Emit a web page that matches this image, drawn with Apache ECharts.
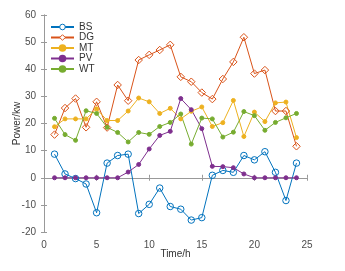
<!DOCTYPE html>
<html><head><meta charset="utf-8">
<script src="https://cdn.jsdelivr.net/npm/echarts@6/dist/echarts.min.js"></script>
<style>html,body{margin:0;padding:0;background:#fff}#c{width:345px;height:271px}</style>
</head><body><div id="c"></div>
<script>
const hours = [1,2,3,4,5,6,7,8,9,10,11,12,13,14,15,16,17,18,19,20,21,22,23,24];
const BS = [8.7,1.4,-0.3,-2.3,-12.9,5.4,8.2,8.7,-13.2,-9.8,-3.8,-10.6,-11.6,-15.6,-14.7,0.9,2.7,2.0,8.2,6.6,9.6,2.0,-8.4,5.4];
const DG = [15.9,25.7,29.2,18.6,28.0,18.5,34.2,28.4,43.4,45.3,47.1,49.0,37.2,35.4,31.4,29.0,36.4,42.7,51.8,38.4,39.7,24.6,24.6,11.6];
const MT = [18.8,21.7,21.7,21.7,25.4,21.1,21.1,24.6,29.4,28.0,23.7,25.6,21.7,24.5,26.1,18.9,20.3,28.5,15.2,24.2,20.7,27.6,27.9,14.8];
const PV = [0,0,0,0,0,0,0,2.1,4.9,10.6,15.6,17.1,29.2,25.1,18.1,4.2,4.1,3.7,1.4,0,0,0,0,0];
const WT = [21.9,15.9,13.8,24.7,23.7,18.6,16.7,13.2,16.7,16.0,18.9,20.4,23.5,12.4,22.0,21.7,15.0,16.8,24.4,22.9,17.5,20.4,22.1,23.7];
const seriesNames = ['BS','DG','MT','PV','WT'];
const seriesData = [BS,DG,MT,PV,WT];
const colors = ['#0072BD','#D95319','#EDB120','#7E2F8E','#77AC30'];
const symbols = ['circle','diamond','circle','circle','circle'];
const hollow = [true,true,false,false,false];
const symSizes = [6.5,7.5,4,4,4];
const xTicks = {min:0,max:25,interval:5};
const yTicks = {min:-20,max:60,interval:10};

const chart = echarts.init(document.getElementById('c'), null, {renderer:'canvas'});
const axisCol = '#999999';
const labCol = '#4d4d4d';
const font = 'Liberation Sans, Arial, sans-serif';
const baseAxis = {
  type:'value', splitLine:{show:false},
  axisLine:{show:true,lineStyle:{color:axisCol,width:1}},
  axisTick:{show:true,inside:true,length:3,lineStyle:{color:axisCol}},
  axisLabel:{color:labCol,fontSize:10,fontFamily:font}
};
chart.setOption({
  animation:false,
  color:colors,
  grid:{left:44,right:38,top:15,bottom:39,containLabel:false},
  legend:{
    data:seriesNames.map((n,i)=>({name:n, itemStyle: hollow[i] ? {color:'#fff',borderColor:colors[i],borderWidth:1} : {color:colors[i]}})),
    orient:'vertical', left:50, top:22, padding:0,
    itemWidth:23, itemHeight:7, itemGap:0.5,
    textStyle:{fontSize:10,lineHeight:10,color:'#333',fontFamily:font}
  },
  xAxis:[
    Object.assign({}, baseAxis, {min:xTicks.min,max:xTicks.max,interval:xTicks.interval,
      name:'Time/h',nameLocation:'middle',nameGap:17,nameMoveOverlap:false,
      nameTextStyle:{fontSize:10,color:'#333',fontFamily:font}}),
    Object.assign({}, baseAxis, {position:'top',min:xTicks.min,max:xTicks.max,interval:xTicks.interval,axisLabel:{show:false}})
  ],
  yAxis:[
    Object.assign({}, baseAxis, {min:yTicks.min,max:yTicks.max,interval:yTicks.interval,
      name:'Power/kw',nameLocation:'middle',nameGap:22,nameMoveOverlap:false,
      nameTextStyle:{fontSize:10,color:'#333',fontFamily:font}}),
    Object.assign({}, baseAxis, {position:'right',min:yTicks.min,max:yTicks.max,interval:yTicks.interval,axisLabel:{show:false}})
  ],
  series: seriesNames.map((n,i)=>({
    name:n, type:'line', xAxisIndex:0, yAxisIndex:0,
    data: hours.map((h,k)=>[h, seriesData[i][k]]),
    symbol:symbols[i], symbolSize:symSizes[i], showAllSymbol:true,
    lineStyle:{width:1,color:colors[i]},
    itemStyle:{color:hollow[i]?'rgba(255,255,255,0)':colors[i],borderColor:colors[i],borderWidth:1}
  }))
});
</script></body></html>
